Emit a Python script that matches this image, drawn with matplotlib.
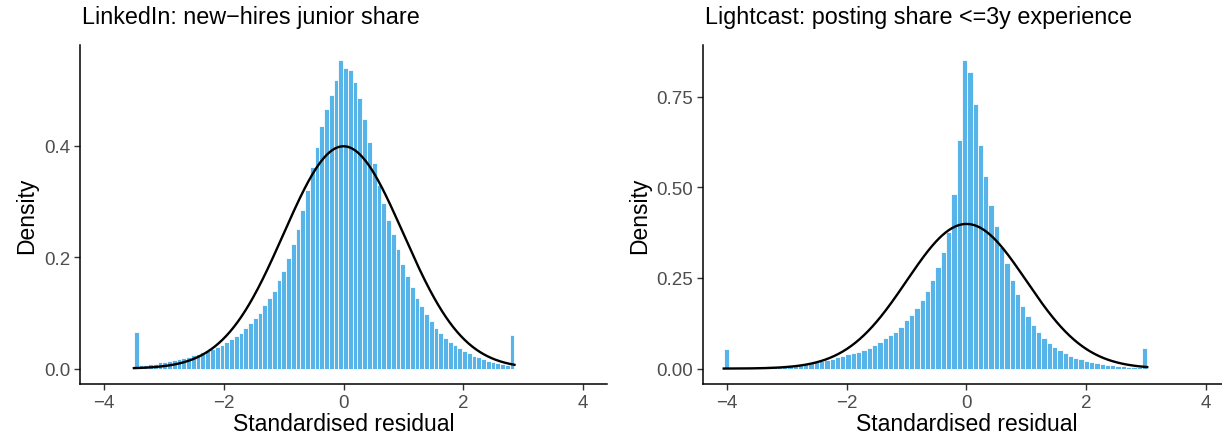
import numpy as np
import matplotlib
matplotlib.use("Agg")
import matplotlib.pyplot as plt

plt.rcParams['font.family'] = ['Liberation Sans', 'DejaVu Sans']

# histogram densities (80 bins per panel)
linkedin_range = (-3.50, 2.855)
linkedin_density = [
    0.066, 0.006, 0.0066, 0.0078, 0.009, 0.011, 0.0126, 0.014, 0.0155, 0.017,
    0.019, 0.0215, 0.024, 0.026, 0.029, 0.032, 0.035, 0.038, 0.043, 0.047,
    0.053, 0.058, 0.064, 0.073, 0.081, 0.091, 0.099, 0.114, 0.127, 0.139,
    0.159, 0.176, 0.199, 0.223, 0.251, 0.285, 0.321, 0.362, 0.398, 0.435,
    0.466, 0.491, 0.518, 0.553, 0.540, 0.535, 0.514, 0.486, 0.447, 0.407,
    0.369, 0.329, 0.297, 0.266, 0.241, 0.215, 0.188, 0.166, 0.147, 0.126,
    0.112, 0.098, 0.086, 0.073, 0.063, 0.055, 0.048, 0.042, 0.037, 0.032,
    0.028, 0.022, 0.020, 0.017, 0.014, 0.011, 0.0096, 0.0078, 0.006, 0.061,
]

lightcast_range = (-4.054, 3.018)
lightcast_density = [
    0.055, 0.002, 0.002, 0.003, 0.003, 0.004, 0.004, 0.005, 0.006, 0.007,
    0.008, 0.009, 0.010, 0.011, 0.012, 0.014, 0.016, 0.018, 0.020, 0.023,
    0.027, 0.031, 0.035, 0.039, 0.044, 0.047, 0.052, 0.057, 0.064, 0.074,
    0.083, 0.092, 0.101, 0.115, 0.133, 0.147, 0.167, 0.190, 0.213, 0.244,
    0.280, 0.322, 0.377, 0.481, 0.630, 0.850, 0.818, 0.731, 0.616, 0.530,
    0.452, 0.393, 0.335, 0.290, 0.244, 0.207, 0.173, 0.145, 0.120, 0.101,
    0.085, 0.071, 0.060, 0.051, 0.043, 0.036, 0.030, 0.027, 0.021, 0.018,
    0.016, 0.013, 0.011, 0.009, 0.007, 0.006, 0.0055, 0.0045, 0.004, 0.057,
]

titles = ["LinkedIn: new\u2212hires junior share",
          "Lightcast: posting share <=3y experience"]
x_ticks = [-4, -2, 0, 2, 4]
y_ticks_left = [0.0, 0.2, 0.4]
y_ticks_right = [0.0, 0.25, 0.5, 0.75]
y_fmt_left = "{:.1f}"
y_fmt_right = "{:.2f}"

bar_color = "#56B4E9"
txt_grey = "#4D4D4D"

W, H = 1222, 439
fig = plt.figure(figsize=(W / 100, H / 100), dpi=100)

# panel boxes in pixels: left, top, right, bottom
boxes = [(80, 46, 607, 385), (703, 46, 1230, 385)]

panels = [
    (linkedin_range, linkedin_density, y_ticks_left, y_fmt_left),
    (lightcast_range, lightcast_density, y_ticks_right, y_fmt_right),
]

for (l, t, r, b), title, (rng, dens, yt, yfmt) in zip(boxes, titles, panels):
    ax = fig.add_axes([l / W, (H - b) / H, (r - l) / W, (b - t) / H])
    dens = np.array(dens)
    edges = np.linspace(rng[0], rng[1], len(dens) + 1)
    ax.bar(edges[:-1], dens, width=np.diff(edges), align='edge',
           color=bar_color, edgecolor='white', linewidth=0.6)

    xs = np.linspace(rng[0], rng[1], 400)
    ax.plot(xs, np.exp(-xs ** 2 / 2) / np.sqrt(2 * np.pi), color='black', lw=1.7)

    top = max(dens.max(), 0.4)
    ax.set_xlim(-4.4, 4.4)
    ax.set_ylim(-0.05 * top, 1.05 * top)

    for s in ['top', 'right']:
        ax.spines[s].set_visible(False)
    for s in ['left', 'bottom']:
        ax.spines[s].set_linewidth(1.1)

    ax.set_xticks(x_ticks)
    ax.set_xticklabels([f"{v}".replace("-", "\u2212") for v in x_ticks])
    ax.set_yticks(yt)
    ax.set_yticklabels([yfmt.format(v) for v in yt])
    ax.tick_params(length=4, width=1.0, color='#333333', labelsize=13.5,
                   labelcolor=txt_grey, pad=3)

    ax.set_xlabel("Standardised residual", fontsize=16.5, labelpad=1)
    ax.set_ylabel("Density", fontsize=16.5, labelpad=4)
    ax.set_title(title, loc='left', fontsize=16.8, pad=16, x=0.003)

fig.savefig("out.png", dpi=100)
